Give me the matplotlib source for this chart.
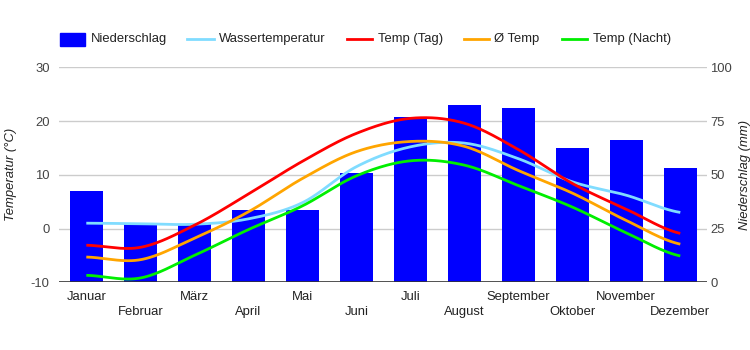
import numpy as np
import matplotlib
matplotlib.use("Agg")
import matplotlib.pyplot as plt
from matplotlib.lines import Line2D
from matplotlib.patches import Rectangle

months = ["Januar", "Februar", "März", "April", "Mai", "Juni", "Juli",
          "August", "September", "Oktober", "November", "Dezember"]
niederschlag = [42.5, 27, 27, 33.5, 33.5, 51, 77, 82.5, 81, 62.5, 66, 53]
wasser = [1.0, 0.9, 0.8, 1.8, 4.8, 11.5, 15.2, 15.9, 13.0, 8.7, 6.2, 3.0]
temp_tag = [-3.1, -3.5, 0.6, 6.4, 12.5, 17.7, 20.5, 19.6, 14.7, 8.4, 3.6, -0.9]
temp_avg = [-5.3, -5.8, -1.8, 3.1, 9.3, 14.3, 16.2, 15.3, 10.8, 6.6, 1.5, -2.9]
temp_nacht = [-8.7, -9.2, -5.0, -0.2, 4.2, 9.8, 12.6, 11.8, 8.0, 4.0, -0.8, -5.1]

C_BAR = "#0000ff"
C_WATER = "#80dcff"
C_RED = "#ff0000"
C_ORANGE = "#ffa500"
C_GREEN = "#00ee00"

plt.rcParams['font.family'] = ['Liberation Sans', 'DejaVu Sans']
plt.rcParams['axes.unicode_minus'] = False

def smooth(y, n=30):
    y = np.asarray(y, float)
    x = np.arange(len(y))
    m = np.zeros_like(y)
    m[1:-1] = (y[2:] - y[:-2]) / 2.0
    m[0] = (y[1] - y[0]) * 0.5
    m[-1] = (y[-1] - y[-2]) * 0.5
    xs, ys = [], []
    for i in range(len(y) - 1):
        t = np.linspace(0, 1, n, endpoint=(i == len(y) - 2))
        h00 = 2*t**3 - 3*t**2 + 1
        h10 = t**3 - 2*t**2 + t
        h01 = -2*t**3 + 3*t**2
        h11 = t**3 - t**2
        xs.append(x[i] + t)
        ys.append(h00*y[i] + h10*m[i] + h01*y[i+1] + h11*m[i+1])
    return np.concatenate(xs), np.concatenate(ys)

W, H = 750, 350
fig = plt.figure(figsize=(7.5, 3.5), dpi=100)
left_px, right_px, top_px, bot_px = 59.3, 707.3, 67.3, 282.3
ax = fig.add_axes([left_px/W, 1 - bot_px/H, (right_px-left_px)/W, (bot_px-top_px)/H])
ax2 = ax.twinx()

x = np.arange(12)
ax2.bar(x, niederschlag, width=0.61, color=C_BAR, zorder=2)
ax2.set_ylim(0, 100)
ax.set_ylim(-10, 30)
ax.set_xlim(-0.5, 11.5)

ax.set_zorder(ax2.get_zorder() + 1)
ax.patch.set_visible(False)

for vals, c in [(wasser, C_WATER), (temp_tag, C_RED), (temp_avg, C_ORANGE), (temp_nacht, C_GREEN)]:
    sx, sy = smooth(vals)
    ax.plot(sx, sy, color=c, lw=2, solid_capstyle='butt', zorder=3)

ax2.set_yticks([0, 25, 50, 75, 100])
ax.set_yticks([-10, 0, 10, 20, 30])
for yv in [25, 50, 75, 100]:
    ax2.axhline(yv, color="#cccccc", lw=1, zorder=0)
ax2.axhline(0, color="#333333", lw=1.2, zorder=4)

for a in (ax, ax2):
    for s in a.spines.values():
        s.set_visible(False)
    a.tick_params(length=0, labelsize=9.4, colors="#444444")
    a.tick_params(which='minor', length=0)

ax.tick_params(axis='y', pad=7)
ax2.tick_params(axis='y', pad=2)
ax.set_xticks(x[::2])
ax.set_xticklabels(months[::2], fontsize=9.4, color="#222222")
ax.set_xticks(x[1::2], minor=True)
ax.set_xticklabels(months[1::2], minor=True, fontsize=9.4, color="#222222")
ax.tick_params(axis='x', which='major', pad=6)
ax.tick_params(axis='x', which='minor', pad=17, labelsize=9.4, colors="#222222")

ax.set_ylabel("Temperatur (°C)", fontsize=9.4, style='italic', color="#222222")
ax.yaxis.set_label_coords((17 - left_px) / (right_px - left_px), 0.5)
ax2.set_ylabel("Niederschlag (mm)", fontsize=9.4, style='italic', color="#222222", rotation=90)
ax2.yaxis.set_label_coords((739 - left_px) / (right_px - left_px), 0.5)

# legend
ly = 1 - 39/H
fig.add_artist(Rectangle((60/W, 1-46/H), 25/W, 13/H, color=C_BAR, transform=fig.transFigure))
fig.text(91/W, ly, "Niederschlag", fontsize=9.4, color="#222222", va='center')
items = [(187, 214, 219, "Wassertemperatur", C_WATER),
         (347, 372, 378, "Temp (Tag)", C_RED),
         (464, 489, 494, "Ø Temp", C_ORANGE),
         (562, 587, 593, "Temp (Nacht)", C_GREEN)]
for x0, x1, tx, label, c in items:
    fig.add_artist(Line2D([x0/W, x1/W], [ly, ly], color=c, lw=2, transform=fig.transFigure))
    fig.text(tx/W, ly, label, fontsize=9.4, color="#222222", va='center')

fig.savefig("out.png", dpi=100)
